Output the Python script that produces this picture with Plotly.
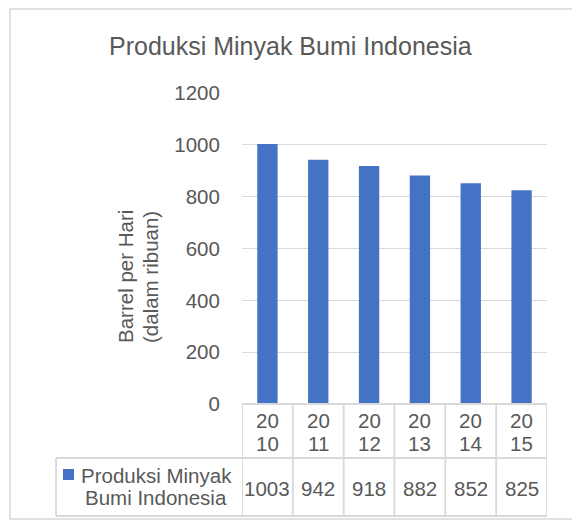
import plotly.graph_objects as go

# ---- data ----
years = ["2010", "2011", "2012", "2013", "2014", "2015"]
production = [1003, 942, 918, 882, 852, 825]
series_name = ["Produksi Minyak", "Bumi Indonesia"]
title_text = "Produksi Minyak Bumi Indonesia"
y_title = ["Barrel per Hari", "(dalam ribuan)"]
y_ticks = [0, 200, 400, 600, 800, 1000, 1200]

W, H = 572, 521
FONT = "Arial, Liberation Sans, sans-serif"
TXT = "#595959"
GRID = "#D9D9D9"
BLUE = "#4472C4"


def px(x):
    return x / W


def py(y):
    return 1 - y / H


fig = go.Figure()
fig.add_trace(go.Bar(
    x=years, y=production, marker=dict(color=BLUE, line=dict(width=0)),
    width=0.4, name=" ".join(series_name), showlegend=False, hoverinfo="skip",
))

shapes = []
ann = []

# outer chart border
shapes.append(dict(type="rect", xref="paper", yref="paper",
                   x0=px(10), x1=px(585), y0=py(519), y1=py(9),
                   line=dict(color=GRID, width=1.5), fillcolor="rgba(0,0,0,0)", layer="below"))

# table horizontal lines
row_top, row_mid, row_bot = 404, 458, 516
shapes.append(dict(type="line", xref="x", yref="paper", x0=-0.5, x1=len(years) - 0.5,
                   y0=py(row_top), y1=py(row_top), line=dict(color=GRID, width=1.8)))
for yy in (row_mid, row_bot):
    shapes.append(dict(type="line", xref="paper", yref="paper", x0=px(56), x1=px(547),
                       y0=py(yy), y1=py(yy), line=dict(color=GRID, width=1.8)))
# table vertical lines
shapes.append(dict(type="line", xref="paper", yref="paper", x0=px(56), x1=px(56),
                   y0=py(row_mid), y1=py(row_bot), line=dict(color=GRID, width=1.8)))
for i in range(len(years) + 1):
    shapes.append(dict(type="line", xref="x", yref="paper", x0=i - 0.5, x1=i - 0.5,
                       y0=py(row_top), y1=py(row_bot), line=dict(color=GRID, width=1.8)))

# legend key square
shapes.append(dict(type="rect", xref="paper", yref="paper", x0=px(63), x1=px(74),
                   y0=py(480), y1=py(469), fillcolor=BLUE, line=dict(width=0)))

fs = 20.5
# category labels (wrapped in two lines) and values
for i, (yr, v) in enumerate(zip(years, production)):
    ann.append(dict(x=i, xref="x", y=py(420.5), yref="paper", text=yr[:2], showarrow=False,
                    font=dict(family=FONT, size=fs, color=TXT), yanchor="middle"))
    ann.append(dict(x=i, xref="x", y=py(443.5), yref="paper", text=yr[2:], showarrow=False,
                    font=dict(family=FONT, size=fs, color=TXT), yanchor="middle"))
    ann.append(dict(x=i, xref="x", y=py(488), yref="paper", text=str(v), showarrow=False,
                    font=dict(family=FONT, size=fs, color=TXT), yanchor="middle"))

# legend text
for line, yy in zip(series_name, (475, 497)):
    ann.append(dict(x=px(156), xref="paper", y=py(yy), yref="paper", text=line, showarrow=False,
                    font=dict(family=FONT, size=fs, color=TXT), yanchor="middle", xanchor="center"))

# y axis title (two lines)
for line, xx in zip(y_title, (125, 150)):
    ann.append(dict(x=px(xx), xref="paper", y=py(277), yref="paper", text=line, showarrow=False,
                    textangle=-90, font=dict(family=FONT, size=fs, color=TXT),
                    xanchor="center", yanchor="middle"))

# title
ann.append(dict(x=px(290), xref="paper", y=py(46), yref="paper", text=title_text, showarrow=False,
                font=dict(family=FONT, size=25, color=TXT), xanchor="center", yanchor="middle"))

fig.update_layout(
    width=W, height=H,
    margin=dict(l=0, r=0, t=0, b=0, autoexpand=False),
    paper_bgcolor="white", plot_bgcolor="white",
    xaxis=dict(type="category", domain=[px(242), px(547)], range=[-0.5, len(years) - 0.5],
               showticklabels=False, automargin=False,
               showgrid=False, zeroline=False, showline=False, ticks=""),
    yaxis=dict(domain=[py(404), py(93)], range=[0, 1200], tickvals=y_ticks, automargin=False,
               showgrid=True, gridcolor=GRID, gridwidth=1.3, zeroline=False, showline=False,
               ticks="outside", ticklen=17, tickcolor="rgba(0,0,0,0)",
               tickfont=dict(family=FONT, size=fs, color=TXT)),
    shapes=shapes, annotations=ann,
    bargap=0.6,
)

fig.write_html("out.html", config={"displayModeBar": False},
               post_script="document.body.style.margin='0';document.body.style.overflow='hidden';")
